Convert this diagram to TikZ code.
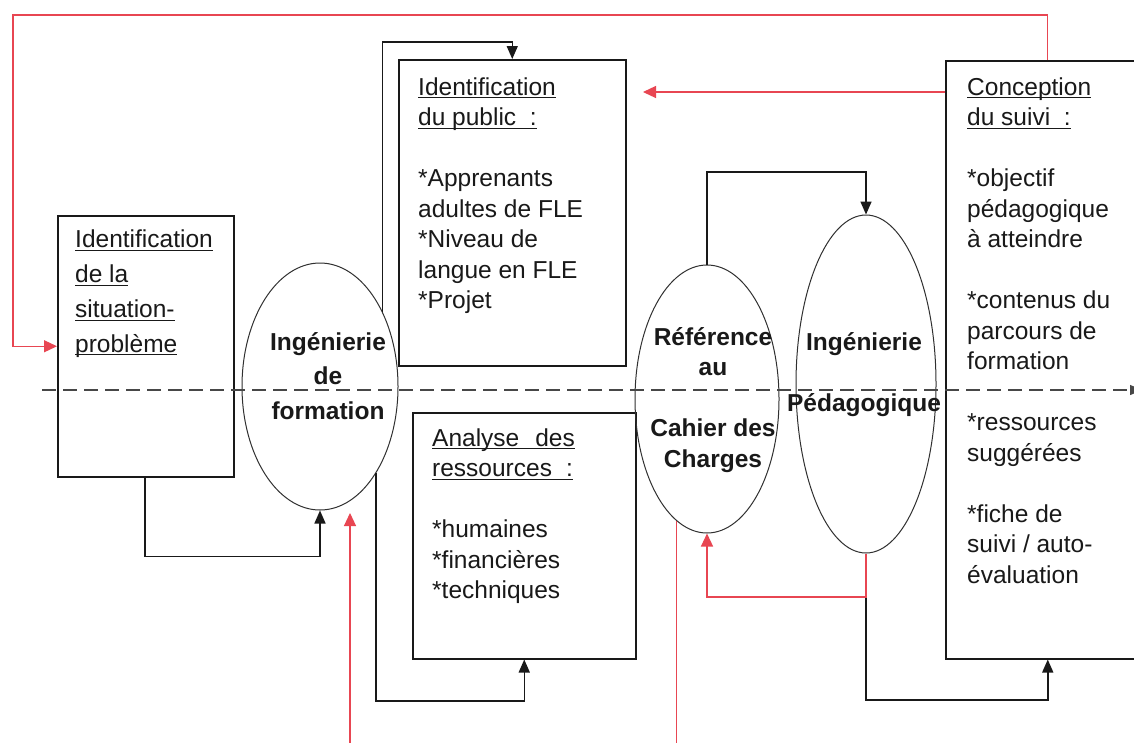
\documentclass[tikz,border=0pt]{standalone}
\usepackage{fontspec}
\setmainfont{Liberation Sans}
\usetikzlibrary{arrows.meta,shapes.geometric}
\definecolor{lred}{RGB}{232,70,82}
\definecolor{ink}{RGB}{25,25,25}
\newcommand\ulx[1]{\setbox0\hbox{#1}\rlap{\rule[-3.4pt]{\wd0}{1.2pt}}\box0}
\begin{document}
\begin{tikzpicture}[x=1pt,y=-1pt,
  box/.style={draw=ink,line width=1.5pt,rectangle,inner sep=0pt,anchor=north west},
  ell/.style={draw=ink!90,line width=1pt,ellipse,inner sep=0pt},
  txt/.style={anchor=base west,align=left,inner sep=0pt,text=ink,font=\fontsize{24.5}{30.5}\selectfont},
  btxt/.style={anchor=base,align=center,inner sep=0pt,text=ink,font=\fontsize{24.5}{30.5}\selectfont\bfseries},
  conn/.style={draw=ink,line width=1.5pt,-{Triangle[length=13pt,width=11pt]}},
  rconn/.style={draw=lred,line width=1.2pt,-{Triangle[length=13pt,width=12pt]}},
  rline/.style={draw=lred,line width=1.2pt},
  axis/.style={draw=ink!80,line width=1.3pt,dash pattern=on 14pt off 7pt,-{Triangle[length=12pt,width=10pt]}},
]
\clip (0,0) rectangle (1134,742);
\fill[white] (0,0) rectangle (1134,742);

% boxes
\node[box,minimum width=176pt,minimum height=261pt] (A) at (57,215) {};
\node[box,minimum width=227pt,minimum height=306pt] (C) at (398,59) {};
\node[box,minimum width=223pt,minimum height=246pt] (E) at (412,412) {};
\node[box,minimum width=204pt,minimum height=598pt] (D) at (945,60) {};

% ellipses
\node[ell,minimum width=156pt,minimum height=247pt] (B) at (320,386.5) {};
\node[ell,minimum width=144pt,minimum height=268pt] (F) at (707,399) {};
\node[ell,minimum width=140pt,minimum height=338pt] (G) at (866,384) {};

% dashed axis
\coordinate (dl) at (42,390);
\coordinate (dr) at (1142,390);
\draw[axis] (dl) -- (dr);

% texts (anchored at the baseline of their last line)
\node[txt,font=\fontsize{24.5}{34.7}\selectfont] (At) at (75,352)
  {\ulx{Identification}\\\ulx{de la}\\\ulx{situation-}\\\ulx{problème}};
\node[txt] (Ct) at (418,308.5)
  {\ulx{Identification}\\\ulx{du public\ \ :}\\[30.5pt]*Apprenants\\adultes de FLE\\*Niveau de\\langue en FLE\\*Projet};
\node[txt] (Et) at (432,598.5)
  {\ulx{Analyse\hspace*{16pt}des}\\\ulx{ressources\hspace*{14pt}:}\\[30.5pt]*humaines\\*financières\\*techniques};
\node[txt] (Dt) at (967,583)
  {\ulx{Conception}\\\ulx{du suivi\ \ :}\\[30.5pt]*objectif\\pédagogique\\à atteindre\\[30.5pt]*contenus du\\parcours de\\formation\\[30.5pt]*ressources\\suggérées\\[30.5pt]*fiche de\\suivi / auto-\\évaluation};
\node[btxt,font=\fontsize{24.5}{34.5}\selectfont\bfseries] (Bt) at (328,419)
  {Ingénierie\\de\\formation};
\node[btxt] (Ft) at (713,467)
  {Référence\\au\\[30.5pt]Cahier des\\Charges};
\node[btxt] (Gt) at (864,411)
  {Ingénierie\\[30.5pt]Pédagogique};

% black connectors
\draw[conn] ([xshift=88pt]A.south west) -- ++(0,79) -| (B.south);
\draw[conn] (B.50) -- (B.50 |- 0,42) -| (C.north);
\draw[conn] (B.-57) -- (B.-57 |- 0,701) -| (E.south);
\draw[conn] (F.north) -- (F.north |- 0,172) -| (G.north);
\draw[conn] (G.south |- 0,597) -- (G.south |- 0,700) -| (D.south);

% red connectors
\draw[rconn] (G.south) -- (G.south |- 0,597) -| (F.south);
\draw[rconn] (D.north) |- (13,15) |- (A.west);
\coordinate (rt) at (643,92);
\draw[rconn] (D.north west |- rt) -- (rt);
\coordinate (r1) at (350,745);
\coordinate (r1t) at (350,513);
\draw[rconn] (r1) -- (r1t);
\coordinate (r2) at (F.-104 |- 0,745);
\draw[rline] (F.-104) -- (r2);
\end{tikzpicture}
\end{document}
